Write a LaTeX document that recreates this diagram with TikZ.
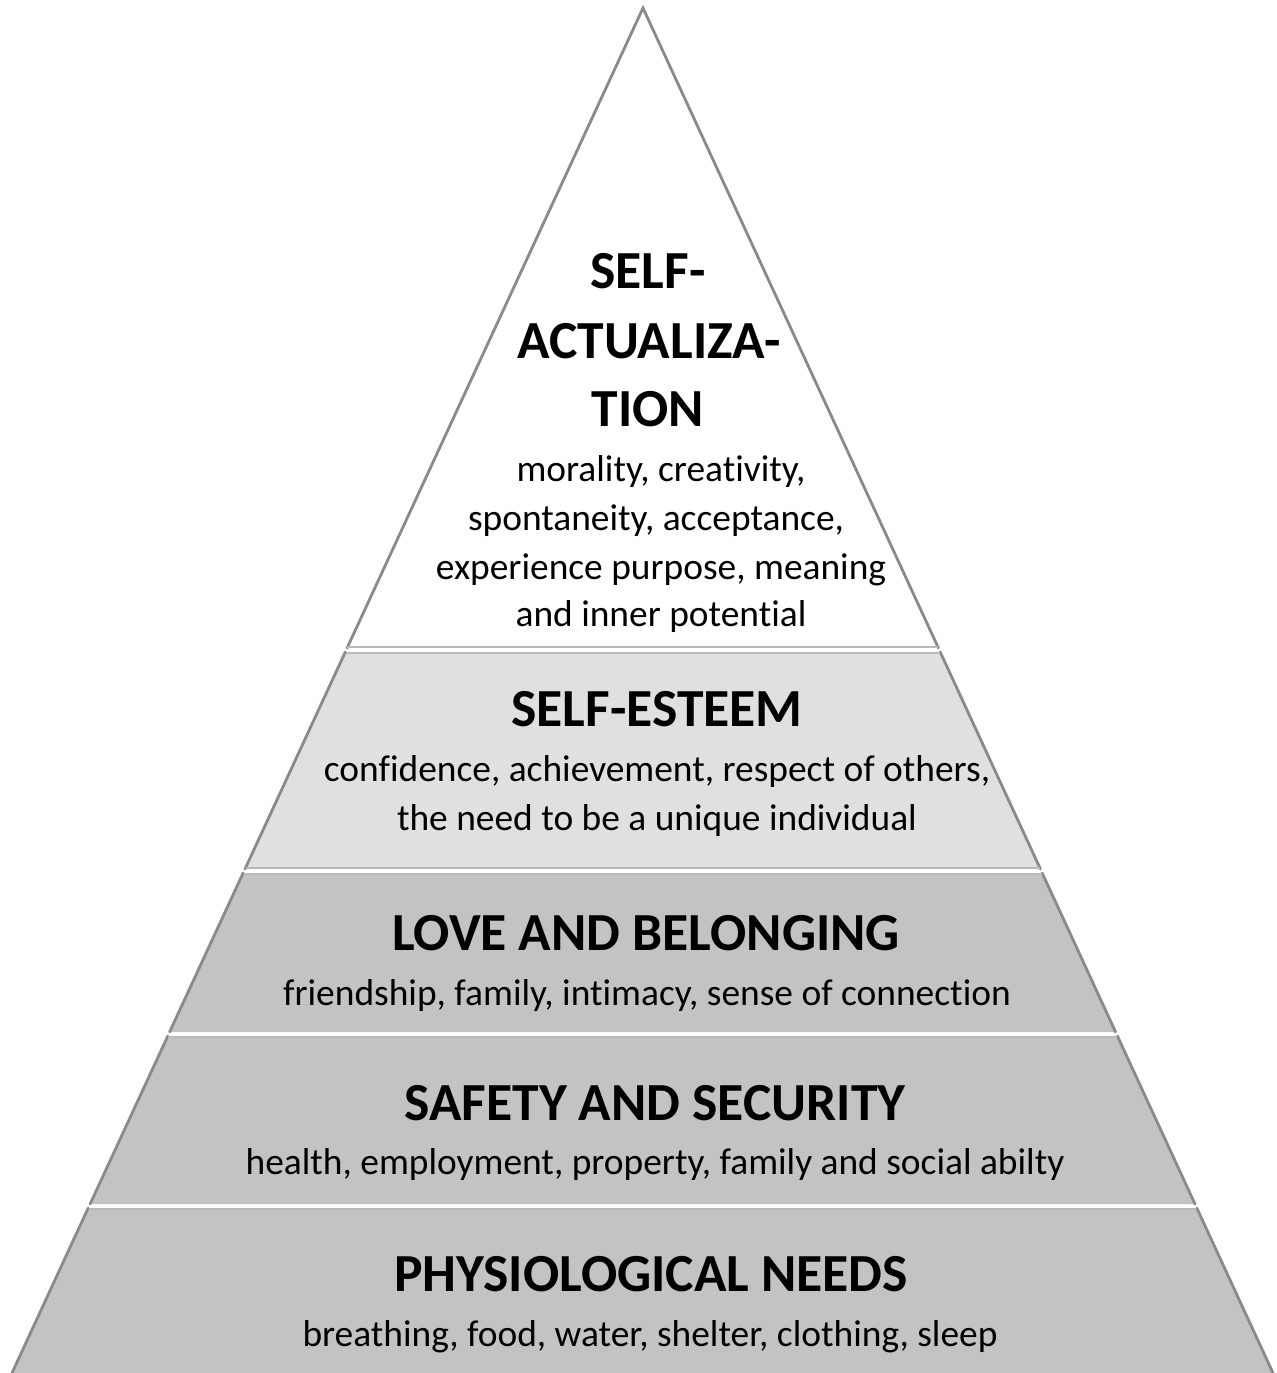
\documentclass[tikz,border=0pt]{standalone}
\usepackage{fontspec}
\setmainfont{Carlito}[Ligatures={NoCommon}]
\definecolor{layA}{HTML}{FFFFFF}
\definecolor{layB}{HTML}{E0E0E0}
\definecolor{layC}{HTML}{C3C3C3}
\definecolor{edgegray}{HTML}{8A8A8A}
\tikzset{
  sideedge/.style={draw=edgegray, line width=1.6pt, line cap=round},
  topedge/.style={draw=gray!55, line width=0.9pt},
  titletext/.style={anchor=base, inner sep=0pt, font=\fontsize{30.5}{36}\selectfont\bfseries},
  bodytext/.style={anchor=base, inner sep=0pt, font=\fontsize{21.3}{26}\selectfont},
}
\begin{document}
\begin{tikzpicture}[x=0.02cm,y=-0.02cm]
\useasboundingbox (0,0) rectangle (1276,1373);
\fill[white] (0,0) rectangle (1276,1373);

% layers
\fill[layA] (643,8) -- (938.4,648) -- (347.1,648) -- cycle;
\fill[layB] (345.3,652) -- (940.2,652) -- (1040.4,869) -- (245.0,869) -- cycle;
\fill[layC] (243.1,873) -- (1042.2,873) -- (1115.6,1032) -- (169.6,1032) -- cycle;
\fill[layC] (167.8,1036) -- (1117.4,1036) -- (1195.0,1204) -- (90.1,1204) -- cycle;
\fill[layC] (88.2,1208) -- (1196.8,1208) -- (1273,1373) -- (12,1373) -- cycle;

% edges / shadows
\draw[sideedge] (347.1,648) -- (643,8) -- (938.4,648);
\draw[topedge] (347.1,647) -- (938.4,647);
\draw[sideedge] (245.0,869) -- (345.3,652);
\draw[sideedge] (940.2,652) -- (1040.4,869);
\draw[topedge] (345.8,653) -- (939.7,653);
\draw[topedge] (245.5,868) -- (1039.9,868);
\draw[sideedge] (169.6,1032) -- (243.1,873);
\draw[sideedge] (1042.2,873) -- (1115.6,1032);
\draw[topedge] (243.6,874) -- (1041.7,874);
\draw[sideedge] (90.1,1204) -- (167.8,1036);
\draw[sideedge] (1117.4,1036) -- (1195.0,1204);
\draw[topedge] (168.3,1037) -- (1116.9,1037);
\draw[sideedge] (12,1373) -- (88.2,1208);
\draw[sideedge] (1196.8,1208) -- (1273,1373);
\draw[topedge] (88.7,1209) -- (1196.3,1209);

% level 1
\node[titletext] (t1a) at (648,288) {SELF-};
\node[titletext] (t1b) at (649,358) {ACTUALIZA-};
\node[titletext] (t1c) at (648,426) {TION};
\node[bodytext] (b1a) at (661,481) {morality, creativity,};
\node[bodytext] (b1b) at (656,530) {spontaneity, acceptance,};
\node[bodytext] (b1c) at (661,579) {experience purpose, meaning};
\node[bodytext] (b1d) at (661,626) {and inner potential};

% level 2
\node[titletext] (t2) at (657,726) {SELF-ESTEEM};
\node[bodytext] (b2a) at (657,781) {confidence, achievement, respect of others,};
\node[bodytext] (b2b) at (657,830) {the need to be a unique individual};

% level 3
\node[titletext] (t3) at (646,950) {LOVE AND BELONGING};
\node[bodytext] (b3) at (647,1005) {friendship, family, intimacy, sense of connection};

% level 4
\node[titletext] (t4) at (655,1120) {SAFETY AND SECURITY};
\node[bodytext] (b4) at (655,1174) {health, employment, property, family and social abilty};

% level 5
\node[titletext] (t5) at (651,1291) {PHYSIOLOGICAL NEEDS};
\node[bodytext] (b5) at (650,1346) {breathing, food, water, shelter, clothing, sleep};
\end{tikzpicture}
\end{document}
